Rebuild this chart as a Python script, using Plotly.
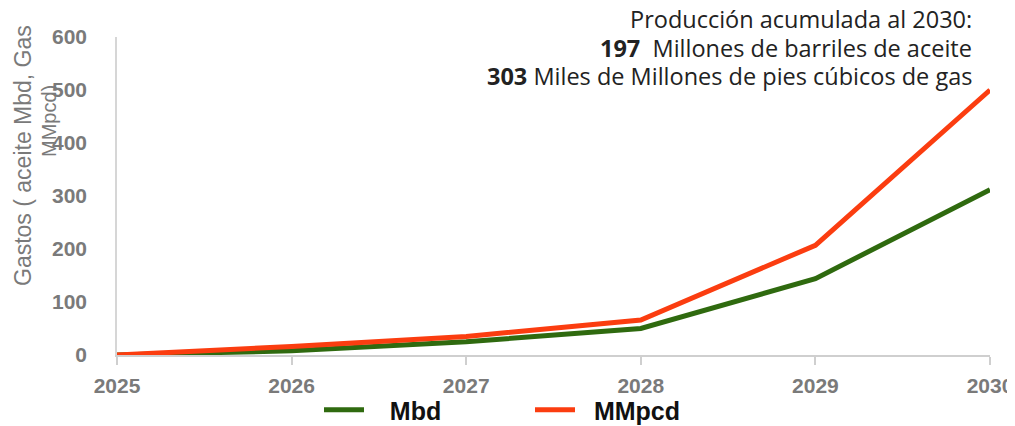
import plotly.graph_objects as go

years = [2025, 2026, 2027, 2028, 2029, 2030]
mbd = [0, 8, 25, 50, 144, 312]
mmpcd = [0, 16, 35, 66, 207, 500]
y_ticks = [0, 100, 200, 300, 400, 500, 600]

fig = go.Figure()
fig.add_trace(go.Scatter(x=years, y=mbd, mode="lines", name="\u00a0\u00a0\u00a0Mbd",
                         line=dict(color="#2f6a0f", width=5)))
fig.add_trace(go.Scatter(x=years, y=mmpcd, mode="lines", name="\u00a0\u00a0MMpcd",
                         line=dict(color="#fb3d10", width=5)))

gray = "#7a7a7a"
W, H = 1007, 418


def px(xr):
    return (xr - 117) / 873


def py(yr):
    return (355 - yr) / 318


fig.update_layout(
    width=W, height=H,
    margin=dict(l=109, r=25, t=29, b=71, autoexpand=False),
    paper_bgcolor="white", plot_bgcolor="white",
    font=dict(family="Liberation Sans, Arial", size=18, color=gray),
    showlegend=True,
    legend=dict(orientation="h", x=px(319), y=py(410), xanchor="left", yanchor="middle",
                font=dict(family="Liberation Sans, Arial", size=25, color="#111111", weight="bold"),
                entrywidth=156, entrywidthmode="pixels", itemwidth=40,
                bgcolor="rgba(0,0,0,0)"),
    xaxis=dict(range=[2025, 2030], tickvals=years, ticktext=[str(y) for y in years],
               showgrid=False, zeroline=False, showline=True, linecolor="#cfcfcf", linewidth=1.5,
               ticks="outside", ticklen=8, tickcolor="#cfcfcf", tickwidth=1.5, automargin=False,
               tickfont=dict(size=21, color=gray, weight="bold"), ticklabelstandoff=3),
    yaxis=dict(range=[0, 600], tickvals=y_ticks, showgrid=False, zeroline=False, automargin=False,
               showline=True, linecolor="#d6d6d6", linewidth=1.5, ticks="",
               tickfont=dict(size=21, color=gray, weight="bold"), ticklabelstandoff=24),
)

fig.add_annotation(text="Gastos ( aceite Mbd, Gas", textangle=-90, xref="paper", yref="paper",
                   x=px(23), y=py(156), xanchor="center", yanchor="middle",
                   showarrow=False, font=dict(size=23, color=gray, family="Liberation Sans, Arial"))
fig.add_annotation(text="MMpcd)", textangle=-90, xref="paper", yref="paper",
                   x=px(49), y=py(121), xanchor="center", yanchor="middle",
                   showarrow=False, font=dict(size=20, color=gray, family="Liberation Sans, Arial"))

info_lines = [
    "Producción acumulada al 2030:",
    "<b>197</b>  Millones de barriles de aceite",
    "<b>303</b> Miles de Millones de pies cúbicos de gas",
]
info_y = [19, 47.5, 76]
for txt, yy in zip(info_lines, info_y):
    fig.add_annotation(text=txt, xref="paper", yref="paper", x=px(973), y=py(yy),
                       xanchor="right", yanchor="middle", showarrow=False, borderpad=0,
                       font=dict(family="Open Sans", size=23.5, color="#222222"))

fig.write_html("out.html")
